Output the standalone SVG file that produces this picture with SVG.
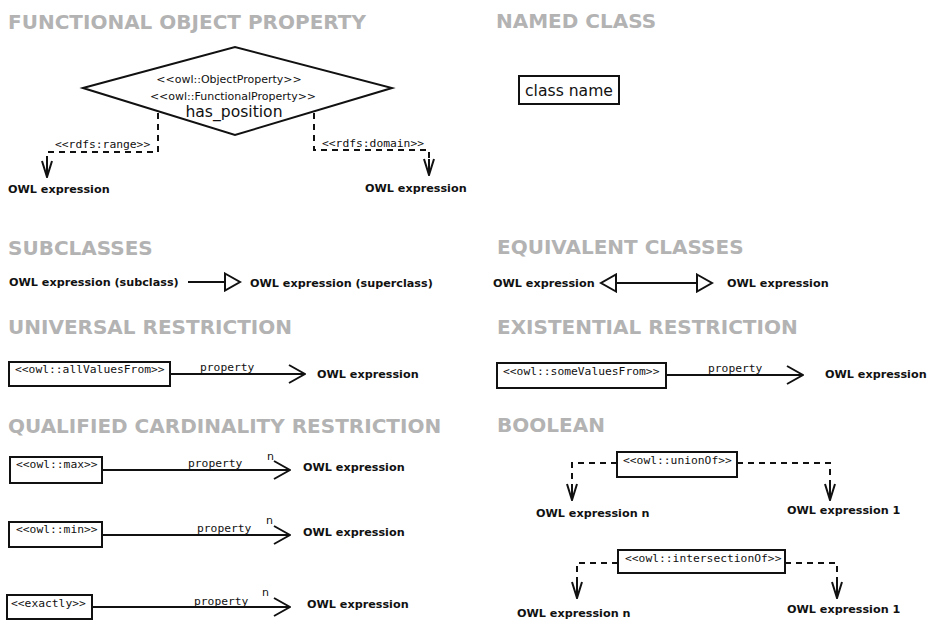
<svg xmlns="http://www.w3.org/2000/svg" width="929" height="621" viewBox="0 0 929 621">
<style>
.title{font-family:"DejaVu Sans",Verdana,sans-serif;font-weight:bold;font-size:20px;fill:#b3b3b3}
.expr{font-family:"DejaVu Sans",Verdana,sans-serif;font-weight:bold;font-size:11.2px;fill:#111}
.sans{font-family:"DejaVu Sans",Verdana,sans-serif;font-size:11px;fill:#111}
.big{font-family:"DejaVu Sans",Verdana,sans-serif;font-size:15.6px;fill:#111}
.mono{font-family:"DejaVu Sans Mono","Liberation Mono",monospace;font-size:11.3px;fill:#111}
.box{fill:#fff;stroke:#111;stroke-width:2}
.line{fill:none;stroke:#111;stroke-width:2}
.dash{fill:none;stroke:#111;stroke-width:2;stroke-dasharray:6,5}
</style>
<defs>
<marker id="vee" viewBox="0 0 18 20" refX="17" refY="10" markerWidth="18" markerHeight="20" markerUnits="userSpaceOnUse" orient="auto">
<path d="M1,1 L17,10 L1,19" fill="none" stroke="#111" stroke-width="2"/>
</marker>
<marker id="down" viewBox="0 0 18 12" refX="17" refY="6" markerWidth="18" markerHeight="12" markerUnits="userSpaceOnUse" orient="auto">
<path d="M1,1 L17,6 L1,11 M1,6 L17,6" fill="none" stroke="#111" stroke-width="2"/>
</marker>
<marker id="tri" viewBox="0 0 18 20" refX="16" refY="10" markerWidth="18" markerHeight="20" markerUnits="userSpaceOnUse" orient="auto-start-reverse">
<path d="M1,1.5 L16,10 L1,18.5 Z" fill="#fff" stroke="#111" stroke-width="2"/>
</marker>
</defs>
<rect width="929" height="621" fill="#fff"/>

<g id="titles">
<text class="title" x="8" y="29">FUNCTIONAL OBJECT PROPERTY</text>
<text class="title" x="496" y="28">NAMED CLASS</text>
<text class="title" x="8" y="255">SUBCLASSES</text>
<text class="title" x="497" y="254">EQUIVALENT CLASSES</text>
<text class="title" x="8" y="334">UNIVERSAL RESTRICTION</text>
<text class="title" x="497" y="334">EXISTENTIAL RESTRICTION</text>
<text class="title" x="8" y="433">QUALIFIED CARDINALITY RESTRICTION</text>
<text class="title" x="497" y="432">BOOLEAN</text>
</g>

<g id="connectors">
<path class="dash" d="M158,113 V152 H47 V177" marker-end="url(#down)"/>
<path class="dash" d="M314,113 V150 H429 V175" marker-end="url(#down)"/>
<path class="line" d="M188,282 H240" marker-end="url(#tri)"/>
<path class="line" d="M601,283 H712" marker-start="url(#tri)" marker-end="url(#tri)"/>
<path class="line" d="M170,374 H305" marker-end="url(#vee)"/>
<path class="line" d="M666,375 H803" marker-end="url(#vee)"/>
<path class="line" d="M102,470 H290" marker-end="url(#vee)"/>
<path class="line" d="M102,535 H290" marker-end="url(#vee)"/>
<path class="line" d="M92,607 H290" marker-end="url(#vee)"/>
<path class="dash" d="M617,463 H572 V500" marker-end="url(#down)"/>
<path class="dash" d="M737,463 H830 V500" marker-end="url(#down)"/>
<path class="dash" d="M618,563 H577 V598" marker-end="url(#down)"/>
<path class="dash" d="M785,563 H837 V598" marker-end="url(#down)"/>
</g>

<g id="connector-labels">
<text class="mono" x="55" y="148">&lt;&lt;rdfs:range&gt;&gt;</text>
<text class="mono" x="322" y="147">&lt;&lt;rdfs:domain&gt;&gt;</text>
<text class="mono" x="200" y="371">property</text>
<text class="mono" x="708" y="372">property</text>
<text class="mono" x="188" y="467">property</text>
<text class="sans" x="267" y="460">n</text>
<text class="mono" x="197" y="532">property</text>
<text class="sans" x="266" y="524">n</text>
<text class="mono" x="194" y="605">property</text>
<text class="sans" x="262" y="596">n</text>
</g>

<g id="has_position">
<polygon class="box" points="83,88 235,47 392,88 235,135"/>
<text class="sans" x="229" y="83" text-anchor="middle">&lt;&lt;owl::ObjectProperty&gt;&gt;</text>
<text class="sans" x="233" y="100" text-anchor="middle">&lt;&lt;owl::FunctionalProperty&gt;&gt;</text>
<text class="big" x="234" y="117" text-anchor="middle">has_position</text>
</g>
<g id="range-expr"><text class="expr" x="8" y="193">OWL expression</text></g>
<g id="domain-expr"><text class="expr" x="365" y="192">OWL expression</text></g>

<g id="class-name">
<rect class="box" x="519" y="76" width="100" height="28" stroke-width="2.5"/>
<text class="big" x="569" y="96" text-anchor="middle">class name</text>
</g>

<g id="subclass"><text class="expr" x="9" y="286">OWL expression (subclass)</text></g>
<g id="superclass"><text class="expr" x="250" y="287">OWL expression (superclass)</text></g>

<g id="equiv-left"><text class="expr" x="493" y="287">OWL expression</text></g>
<g id="equiv-right"><text class="expr" x="727" y="287">OWL expression</text></g>

<g id="allValuesFrom">
<rect class="box" x="9" y="362" width="161" height="24"/>
<text class="mono" x="15" y="373">&lt;&lt;owl::allValuesFrom&gt;&gt;</text>
</g>
<g id="universal-expr"><text class="expr" x="317" y="378">OWL expression</text></g>

<g id="someValuesFrom">
<rect class="box" x="497" y="363" width="169" height="25"/>
<text class="mono" x="503" y="375">&lt;&lt;owl::someValuesFrom&gt;&gt;</text>
</g>
<g id="existential-expr"><text class="expr" x="825" y="378">OWL expression</text></g>

<g id="max">
<rect class="box" x="10" y="457" width="92" height="26"/>
<text class="mono" x="16" y="468">&lt;&lt;owl::max&gt;&gt;</text>
</g>
<g id="max-expr"><text class="expr" x="303" y="471">OWL expression</text></g>

<g id="min">
<rect class="box" x="9" y="522" width="93" height="25"/>
<text class="mono" x="16" y="533">&lt;&lt;owl::min&gt;&gt;</text>
</g>
<g id="min-expr"><text class="expr" x="303" y="536">OWL expression</text></g>

<g id="exactly">
<rect class="box" x="7" y="595" width="85" height="24"/>
<text class="mono" x="11" y="607">&lt;&lt;exactly&gt;&gt;</text>
</g>
<g id="exactly-expr"><text class="expr" x="307" y="608">OWL expression</text></g>

<g id="unionOf">
<rect class="box" x="617" y="452" width="120" height="25"/>
<text class="mono" x="623" y="464">&lt;&lt;owl::unionOf&gt;&gt;</text>
</g>
<g id="union-n"><text class="expr" x="536" y="517">OWL expression n</text></g>
<g id="union-1"><text class="expr" x="787" y="514">OWL expression 1</text></g>

<g id="intersectionOf">
<rect class="box" x="618" y="550" width="167" height="23"/>
<text class="mono" x="625" y="562">&lt;&lt;owl::intersectionOf&gt;&gt;</text>
</g>
<g id="intersection-n"><text class="expr" x="517" y="617">OWL expression n</text></g>
<g id="intersection-1"><text class="expr" x="787" y="613">OWL expression 1</text></g>
</svg>
